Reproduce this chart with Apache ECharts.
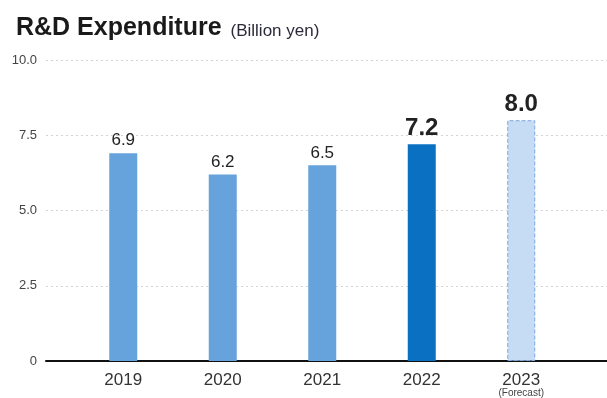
<!DOCTYPE html>
<html><head><meta charset="utf-8">
<script src="https://cdn.jsdelivr.net/npm/echarts@6/dist/echarts.min.js"></script>
<style>html,body{margin:0;padding:0;background:#fff}#c{width:607px;height:398px}</style>
</head><body><div id="c"></div>
<script>
const categories = ['2019','2020','2021','2022','2023'];
const values = [6.9, 6.2, 6.5, 7.2, 8.0];
const yTicks = [0, 2.5, 5.0, 7.5, 10.0];

const chart = echarts.init(document.getElementById('c'), null, {renderer:'canvas'});
const barStyles = [
  {color:'#66a3dc'}, {color:'#66a3dc'}, {color:'#66a3dc'},
  {color:'#0a71c2'},
  {color:'#c6dbf4', borderColor:'#7ea9dc', borderWidth:1, borderType:'dashed'}
];
const labelStyles = [
  {fontSize:17, fontWeight:'normal'}, {fontSize:17, fontWeight:'normal'}, {fontSize:17, fontWeight:'normal'},
  {fontSize:24, fontWeight:'bold'}, {fontSize:24, fontWeight:'bold'}
];
chart.setOption({
  animation:false,
  title:{
    text:'R&D Expenditure {s|(Billion yen)}', left:11, top:11,
    textStyle:{fontFamily:'Liberation Sans', fontSize:25, fontWeight:'bold', color:'#1a1a1a',
      rich:{s:{fontSize:17, fontWeight:'normal', color:'#2a2a3a', fontFamily:'Liberation Sans', padding:[5,0,0,2]}}}
  },
  grid:[
    {left:46, right:0, top:60, bottom:37},
    {left:73.5, right:36, top:60, bottom:37}
  ],
  xAxis:[
    {gridIndex:0, type:'category', data:categories, axisLine:{show:true, lineStyle:{color:'#111', width:2}},
     axisTick:{show:false}, axisLabel:{show:false}},
    {gridIndex:1, type:'category', data:categories, axisLine:{show:false}, axisTick:{show:false},
     axisLabel:{interval:0, color:'#333', fontSize:17, fontFamily:'Liberation Sans', margin:11, lineHeight:16,
       formatter:function(v){return v==='2023' ? v+'\n{f|(Forecast)}' : v;},
       rich:{f:{fontSize:10, color:'#444', lineHeight:10, fontFamily:'Liberation Sans'}}}}
  ],
  yAxis:[
    {gridIndex:0, type:'value', min:yTicks[0], max:yTicks[yTicks.length-1], interval:2.5,
     axisLine:{show:false}, axisTick:{show:false},
     axisLabel:{color:'#444', fontSize:13, fontFamily:'Liberation Sans', margin:9,
       formatter:function(v){return v===0?'0':v.toFixed(1);}},
     splitLine:{show:true, lineStyle:{color:'#d4d4d4', type:[2,3], width:1}}},
    {gridIndex:1, type:'value', min:yTicks[0], max:yTicks[yTicks.length-1], interval:2.5, show:false,
     splitLine:{show:false}}
  ],
  series:[{
    type:'bar', xAxisIndex:1, yAxisIndex:1, barWidth:28,
    data: values.map((v,i)=>({value:v, itemStyle:barStyles[i],
      label:Object.assign({show:true, position:'top', distance:4, color:'#222', fontFamily:'Liberation Sans',
        formatter:function(p){return p.value.toFixed(1);}}, labelStyles[i])})),
    z:3
  }]
});
</script></body></html>
